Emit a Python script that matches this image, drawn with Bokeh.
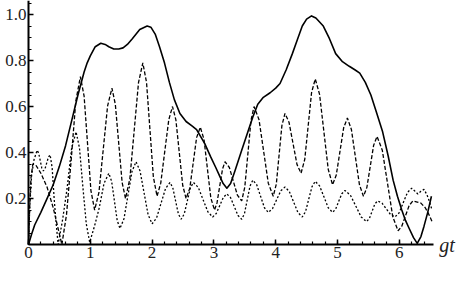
from bokeh.plotting import figure
from bokeh.models import Range1d, FixedTicker, PrintfTickFormatter, Label
from bokeh.embed import file_html
from bokeh.resources import INLINE

# ---- data ----
t_solid = [0, 0.05, 0.1, 0.2, 0.3, 0.4, 0.5, 0.6, 0.7, 0.8, 0.9, 0.95, 1.0, 1.08, 1.17,
           1.24, 1.3, 1.38, 1.46, 1.53, 1.6, 1.68, 1.8, 1.92, 1.98, 2.05, 2.12, 2.2,
           2.28, 2.36, 2.45, 2.55, 2.65, 2.72, 2.85, 2.95, 3.03, 3.09, 3.15, 3.21, 3.27,
           3.34, 3.45, 3.55, 3.63, 3.71, 3.8, 3.91, 4.0, 4.07, 4.17, 4.27, 4.35, 4.43,
           4.5, 4.58, 4.65, 4.77, 4.87, 4.97, 5.08, 5.19, 5.28, 5.36, 5.45, 5.54, 5.63,
           5.73, 5.82, 5.9, 5.97, 6.04, 6.1, 6.16, 6.23, 6.29, 6.35, 6.40, 6.46, 6.52]
v_solid = [0, 0.045, 0.085, 0.14, 0.2, 0.26, 0.34, 0.43, 0.54, 0.65, 0.75, 0.79, 0.82, 0.86, 0.875,
           0.87, 0.86, 0.85, 0.85, 0.855, 0.87, 0.895, 0.935, 0.95, 0.945, 0.915, 0.86, 0.79,
           0.705, 0.63, 0.57, 0.535, 0.515, 0.50, 0.44, 0.38, 0.335, 0.30, 0.265, 0.245, 0.265,
           0.32, 0.41, 0.49, 0.555, 0.61, 0.64, 0.66, 0.68, 0.70, 0.76, 0.83, 0.89, 0.95,
           0.98, 0.994, 0.985, 0.95, 0.895, 0.83, 0.795, 0.775, 0.76, 0.745, 0.705, 0.65, 0.575,
           0.49, 0.385, 0.28, 0.21, 0.15, 0.105, 0.07, 0.03, 0.005, 0.035, 0.08, 0.14, 0.21]

t_dashed = [0, 0.02, 0.04, 0.07, 0.12, 0.2, 0.3, 0.4, 0.47, 0.54,
            0.615, 0.69, 0.765, 0.84,
            0.90, 0.955, 1.01, 1.07,
            1.14, 1.21, 1.28, 1.35,
            1.405, 1.46, 1.515, 1.57,
            1.64, 1.71, 1.78, 1.85,
            1.91, 1.965, 2.02, 2.08,
            2.14, 2.205, 2.27, 2.33,
            2.385, 2.44, 2.495, 2.55,
            2.61, 2.665, 2.72, 2.78,
            2.84, 2.895, 2.95, 3.01,
            3.05, 3.095, 3.14, 3.18,
            3.25, 3.315, 3.38, 3.45,
            3.50, 3.55, 3.60, 3.65,
            3.73, 3.805, 3.88, 3.96,
            4.01, 4.055, 4.10, 4.15,
            4.215, 4.28, 4.345, 4.41,
            4.47, 4.525, 4.58, 4.64,
            4.71, 4.78, 4.85, 4.92,
            4.98, 5.04, 5.10, 5.16,
            5.225, 5.29, 5.355, 5.42,
            5.475, 5.53, 5.585, 5.64,
            5.725, 5.81, 5.895, 5.98,
            6.04, 6.10, 6.16, 6.22, 6.29, 6.35, 6.42, 6.48, 6.53]
v_dashed = [0, 0.17, 0.29, 0.35, 0.345, 0.31, 0.25, 0.16, 0.08, 0.0,
            0.13, 0.365, 0.623, 0.73,
            0.645, 0.44, 0.235, 0.15,
            0.227, 0.415, 0.603, 0.68,
            0.61, 0.44, 0.27, 0.20,
            0.286, 0.495, 0.704, 0.79,
            0.705, 0.50, 0.295, 0.21,
            0.267, 0.405, 0.543, 0.60,
            0.542, 0.40, 0.258, 0.20,
            0.245, 0.355, 0.465, 0.51,
            0.457, 0.33, 0.203, 0.15,
            0.181, 0.255, 0.329, 0.36,
            0.335, 0.275, 0.215, 0.19,
            0.25, 0.395, 0.54, 0.60,
            0.543, 0.405, 0.267, 0.21,
            0.263, 0.39, 0.517, 0.57,
            0.532, 0.44, 0.348, 0.31,
            0.37, 0.515, 0.66, 0.72,
            0.653, 0.49, 0.327, 0.26,
            0.302, 0.405, 0.508, 0.55,
            0.50, 0.38, 0.26, 0.21,
            0.248, 0.34, 0.432, 0.47,
            0.41, 0.265, 0.12, 0.06,
            0.08, 0.125, 0.17, 0.19, 0.185, 0.18, 0.16, 0.13, 0.10]

t_dotted = [0, 0.02, 0.05, 0.09, 0.14,
            0.165, 0.19, 0.215, 0.24,
            0.268, 0.295, 0.322, 0.35,
            0.383, 0.415, 0.448, 0.48,
            0.553, 0.625, 0.698, 0.77,
            0.825, 0.88, 0.935, 0.99,
            1.068, 1.145, 1.222, 1.30,
            1.345, 1.39, 1.435, 1.48,
            1.545, 1.61, 1.675, 1.74,
            1.805, 1.87, 1.935, 2.00,
            2.073, 2.145, 2.218, 2.29,
            2.335, 2.38, 2.425, 2.47,
            2.52, 2.57, 2.62, 2.67,
            2.748, 2.825, 2.903, 2.98,
            3.038, 3.095, 3.153, 3.21,
            3.27, 3.33, 3.39, 3.45,
            3.495, 3.54, 3.585, 3.63,
            3.693, 3.755, 3.818, 3.88,
            3.948, 4.015, 4.083, 4.15,
            4.22, 4.29, 4.36, 4.43,
            4.483, 4.535, 4.588, 4.64,
            4.71, 4.78, 4.85, 4.92,
            4.97, 5.02, 5.07, 5.12,
            5.208, 5.295, 5.383, 5.47,
            5.515, 5.56, 5.605, 5.65,
            5.72, 5.79, 5.86, 5.93,
            5.998, 6.065, 6.133, 6.20,
            6.25, 6.30, 6.35, 6.40, 6.45, 6.49, 6.53]
v_dotted = [0, 0.16, 0.30, 0.37, 0.41,
            0.397, 0.365, 0.333, 0.32,
            0.33, 0.355, 0.38, 0.39,
            0.333, 0.20, 0.09, 0.0,
            0.11, 0.245, 0.418, 0.49,
            0.42, 0.25, 0.09, 0.01,
            0.08, 0.16, 0.266, 0.31,
            0.275, 0.19, 0.105, 0.07,
            0.112, 0.215, 0.318, 0.36,
            0.32, 0.225, 0.13, 0.09,
            0.116, 0.18, 0.244, 0.27,
            0.247, 0.19, 0.133, 0.11,
            0.133, 0.19, 0.247, 0.27,
            0.248, 0.195, 0.142, 0.12,
            0.135, 0.17, 0.205, 0.22,
            0.204, 0.165, 0.126, 0.11,
            0.135, 0.195, 0.255, 0.28,
            0.26, 0.21, 0.16, 0.14,
            0.156, 0.195, 0.234, 0.25,
            0.231, 0.185, 0.139, 0.12,
            0.143, 0.198, 0.252, 0.275,
            0.255, 0.208, 0.16, 0.14,
            0.154, 0.188, 0.221, 0.235,
            0.215, 0.168, 0.12, 0.10,
            0.113, 0.145, 0.177, 0.19,
            0.18, 0.155, 0.13, 0.12,
            0.138, 0.183, 0.227, 0.245,
            0.233, 0.22, 0.232, 0.24, 0.215, 0.185, 0.15]

x_ticks = [0, 1, 2, 3, 4, 5, 6]
y_ticks = [0.2, 0.4, 0.6, 0.8, 1.0]
x_label = "gt"

# ---- figure ----
p = figure(width=459, height=265, output_backend="svg", toolbar_location=None,
           x_range=Range1d(-0.453, 6.974), y_range=Range1d(-0.091, 1.061),
           min_border_left=0, min_border_right=0, min_border_top=0, min_border_bottom=0,
           background_fill_color="white", border_fill_color="white")
p.outline_line_color = None
p.xgrid.visible = False
p.ygrid.visible = False

p.xaxis.ticker = FixedTicker(ticks=x_ticks, minor_ticks=[round(0.2 * i, 2) for i in range(33)])
p.yaxis.ticker = FixedTicker(ticks=y_ticks, minor_ticks=[round(0.05 * i, 2) for i in range(22)])
p.xaxis.formatter = PrintfTickFormatter(format="%d")
p.yaxis.formatter = PrintfTickFormatter(format="%.1f")
p.xaxis.bounds = (0, 6.55)
p.yaxis.bounds = (0, 1.061)
p.xaxis.fixed_location = 0
p.yaxis.fixed_location = 0

for ax in (p.xaxis, p.yaxis):
    ax.axis_line_width = 2
    ax.axis_line_color = "black"
    ax.major_tick_in = 5
    ax.major_tick_out = 0
    ax.minor_tick_in = 3
    ax.minor_tick_out = 0
    ax.major_tick_line_width = 1.5
    ax.minor_tick_line_width = 1.2
    ax.major_tick_line_color = "black"
    ax.minor_tick_line_color = "black"
    ax.major_label_text_font = "Liberation Serif"
    ax.major_label_text_font_size = "17px"
    ax.major_label_text_color = "#222222"
    ax.major_label_standoff = 2

p.line(t_solid, v_solid, line_color="black", line_width=1.6, line_join="round")
p.line(t_dashed, v_dashed, line_color="black", line_width=1.3, line_dash="4 2")
p.line(t_dotted, v_dotted, line_color="black", line_width=1.3, line_dash="2 2")

p.add_layout(Label(x=6.55, y=0, x_offset=6, text=x_label, text_font="Liberation Serif",
                   text_font_style="italic", text_font_size="20px", text_color="#222222",
                   text_baseline="alphabetic", text_align="left"))

open("out.html", "w").write(file_html(p, INLINE))
